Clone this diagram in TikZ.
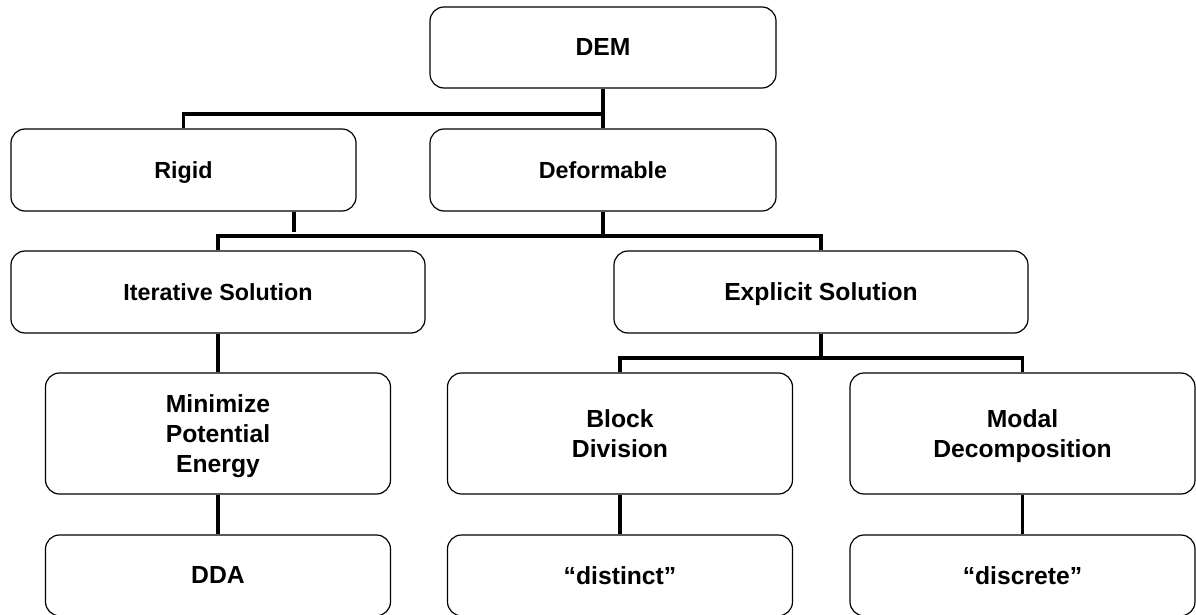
\documentclass[tikz,border=0pt]{standalone}
\usepackage{fontspec}
\setmainfont{Liberation Sans}
\begin{document}
\begin{tikzpicture}[x=1pt,y=-1pt,
  box/.style={draw=black, line width=1.2pt, rounded corners=14pt, align=center,
    inner sep=0pt, text depth=0pt, font=\bfseries\fontsize{24.7}{30}\selectfont},
  boxsmall/.style={box, font=\bfseries\fontsize{23.3}{28}\selectfont},
  narrowbox/.style={minimum width=345pt},
  widebox/.style={minimum width=414pt},
  link/.style={line width=3.2pt, draw=black}]
\useasboundingbox (0,0) rectangle (1196,615);

% top level
\node[box, minimum width=346pt, minimum height=81pt] (dem) at (603,47.5) {DEM};

% body type
\node[boxsmall, narrowbox, minimum height=82pt] (rigid) at (183.5,170) {Rigid};
\node[boxsmall, minimum width=346pt, minimum height=82pt] (deform) at (603,170) {Deformable};

% solution scheme
\node[boxsmall, widebox, minimum height=82pt] (iter) at (218,292) {Iterative Solution};
\node[box, widebox, minimum height=82pt] (expl) at (821,292) {Explicit Solution};

% approach
\node[box, narrowbox, minimum height=121pt] (mini) at (218,433.5) {Minimize\\Potential\\Energy};
\node[box, narrowbox, minimum height=121pt] (block) at (620,433.5) {Block\\Division};
\node[box, narrowbox, minimum height=121pt] (modal) at (1022.5,433.5) {Modal\\Decomposition};

% method names (their lower edge runs off the page)
\node[box, narrowbox, minimum height=80.8pt] (dda) at (218,575.4) {DDA};
\node[box, narrowbox, minimum height=80.8pt] (distinct) at (620,575.4) {“distinct”};
\node[box, narrowbox, minimum height=80.8pt] (discrete) at (1022.5,575.4) {“discrete”};

% connectors
\coordinate (j1) at (603,114);
\draw[link] (dem.south) -- (deform.north);
\draw[link] (rigid.north) |- (j1);

\coordinate (rstub) at (294,232);
\draw[link] (rigid.south -| rstub) -- (rstub);

\coordinate (j2) at (603,236);
\draw[link] (deform.south) -- (j2);
\draw[link] (iter.north) |- (expl.north |- j2) -- (expl.north);

\draw[link] (iter.south) -- (mini.north);

\coordinate (j3) at (821,358);
\draw[link] (expl.south) -- (j3);
\draw[link] (block.north) |- (modal.north |- j3) -- (modal.north);

\draw[link] (mini.south) -- (dda.north);
\draw[link] (block.south) -- (distinct.north);
\draw[link] (modal.south) -- (discrete.north);
\end{tikzpicture}
\end{document}
